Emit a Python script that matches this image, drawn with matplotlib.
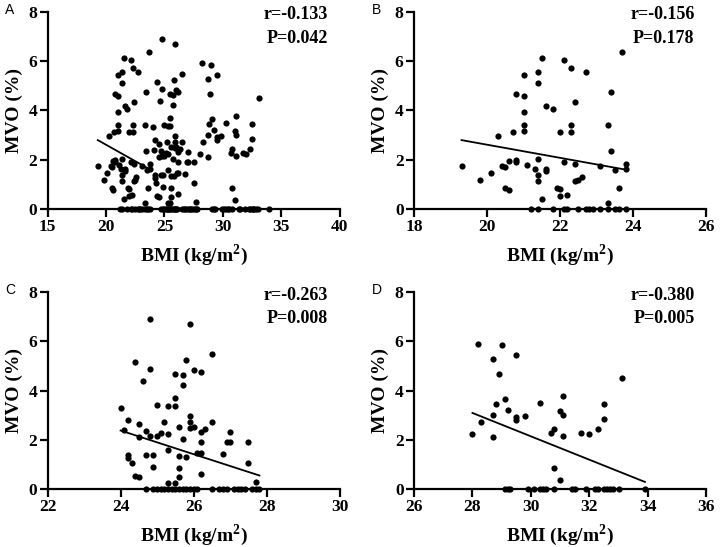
import numpy as np
import matplotlib
matplotlib.use('Agg')
import matplotlib.pyplot as plt

plt.rcParams['mathtext.fontset'] = 'custom'
plt.rcParams['mathtext.rm'] = 'Liberation Serif'
plt.rcParams['mathtext.bf'] = 'Liberation Serif:bold'

# Datos (BMI, MVO)
b_bmi = [19.3, 19.8, 20.1, 20.3, 20.4, 20.5, 20.5, 20.6, 20.6, 20.7, 20.8, 20.8, 20.8,
         21.0, 21.0, 21.0, 21.0, 21.0, 21.1, 21.3, 21.4, 21.4, 21.4, 21.4, 21.4, 21.5,
         21.5, 21.6, 21.6, 21.6, 21.8, 21.9, 22.0, 22.0, 22.0, 22.1, 22.1, 22.2, 22.3,
         22.3, 22.3, 22.4, 22.4, 22.4, 22.5, 22.6, 22.7, 23.1, 23.3, 23.3, 23.4, 23.4,
         23.5, 23.6, 23.7, 23.8, 23.8,
         21.2, 21.4, 21.8, 22.1, 22.2, 22.5, 22.7, 22.8, 22.9, 23.1, 23.3, 23.5, 23.6, 23.8]
b_mvo = [1.73, 1.19, 1.47, 2.96, 1.76, 1.69, 0.84, 0.77, 1.95, 3.13, 4.67, 1.99, 1.89,
         5.43, 4.60, 3.94, 3.40, 3.15, 1.77, 1.61, 5.58, 5.12, 2.02, 1.39, 1.12, 6.14,
         0.41, 1.62, 1.56, 4.17, 4.07, 0.85, 0.80, 0.53, 3.13, 6.06, 1.89, 0.55, 5.74,
         3.40, 3.11, 4.33, 1.81, 1.12, 1.19, 1.29, 5.56, 1.73, 3.41, 0.24, 2.37, 4.75,
         1.57, 0.85, 6.37, 1.84, 1.61,
         0, 0, 0, 0, 0, 0, 0, 0, 0, 0, 0, 0, 0, 0]

c_bmi = [24.0, 24.1, 24.2, 24.2, 24.2, 24.3, 24.4, 24.4, 24.5, 24.5, 24.5, 24.6, 24.7,
         24.7, 24.8, 24.8, 24.8, 24.9, 24.9, 25.0, 25.0, 25.1, 25.2, 25.3, 25.3, 25.3,
         25.3, 25.5, 25.5, 25.5, 25.5, 25.6, 25.6, 25.6, 25.6, 25.7, 25.7, 25.7, 25.8,
         25.8, 25.9, 25.9, 25.9, 25.9, 26.0, 26.0, 26.1, 26.2, 26.2, 26.2, 26.2, 26.2,
         26.3, 26.5, 26.5, 26.8, 26.9, 27.0, 27.0, 27.5, 27.5, 27.7,
         24.7, 24.9, 25.0, 25.1, 25.2, 25.3, 25.4, 25.5, 25.6, 25.7, 25.8, 25.9, 26.0,
         26.1, 26.5, 26.7, 26.8, 26.9, 27.1, 27.2, 27.3, 27.4, 27.6, 27.7, 27.8]
c_mvo = [3.31, 2.39, 2.82, 1.38, 1.27, 1.07, 5.16, 0.51, 0.47, 2.64, 2.12, 4.39, 2.35,
         1.38, 6.92, 4.86, 2.16, 1.38, 0.89, 3.42, 2.16, 2.26, 2.72, 3.36, 2.23, 1.58,
         0.24, 4.69, 3.68, 3.39, 0.23, 2.51, 1.35, 0.85, 0.47, 4.64, 4.24, 2.03, 5.23,
         1.32, 6.69, 2.96, 2.72, 2.49, 4.85, 2.51, 1.47, 4.77, 2.32, 1.89, 1.47, 0.59,
         2.42, 5.47, 2.72, 1.41, 1.89, 2.30, 1.89, 1.89, 1.04, 0.30,
         0, 0, 0, 0, 0, 0, 0, 0, 0, 0, 0, 0, 0, 0, 0, 0, 0, 0, 0, 0, 0, 0, 0, 0, 0]

d_bmi = [28.0, 28.2, 28.3, 28.7, 28.7, 28.7, 28.8, 28.9, 29.0, 29.1, 29.2, 29.5, 29.5,
         29.5, 29.8, 30.3, 30.7, 30.8, 30.8, 31.0, 31.0, 31.1, 31.1, 31.1, 31.7, 32.0,
         32.3, 32.5, 32.5, 33.1,
         29.1, 29.2, 29.3, 29.9, 30.1, 30.3, 30.4, 30.5, 30.8, 31.4, 31.5, 31.9, 32.2,
         32.3, 32.5, 32.6, 32.7, 32.8, 33.0, 33.9]
d_mvo = [2.23, 5.91, 2.74, 5.28, 2.99, 2.12, 3.45, 4.68, 5.84, 3.64, 3.20, 5.46, 2.92,
         2.80, 2.96, 3.50, 2.27, 2.43, 0.84, 0.36, 3.15, 2.99, 3.78, 2.14, 2.28, 2.23,
         2.45, 2.85, 3.47, 4.50,
         0, 0, 0, 0, 0, 0, 0, 0, 0, 0, 0, 0, 0, 0, 0, 0, 0, 0, 0, 0]

# Rectas de ajuste (pendiente, intercepto)
fit_b = (-0.267, 7.95)
fit_c = (-0.481, 13.92)
fit_d = (-0.475, 16.39)

# El panel A junta todos los datos
a_bmi = b_bmi + c_bmi + d_bmi
a_mvo = b_mvo + c_mvo + d_mvo

paneles = [
    ('A', a_bmi, a_mvo, fit_b, (min(b_bmi), max(b_bmi)), (15, 40), [15, 20, 25, 30, 35, 40], '-0.133', '0.042'),
    ('B', b_bmi, b_mvo, fit_b, (min(b_bmi), max(b_bmi)), (18, 26), [18, 20, 22, 24, 26], '-0.156', '0.178'),
    ('C', c_bmi, c_mvo, fit_c, (min(c_bmi), max(c_bmi)), (22, 30), [22, 24, 26, 28, 30], '-0.263', '0.008'),
    ('D', d_bmi, d_mvo, fit_d, (min(d_bmi), max(d_bmi)), (26, 36), [26, 28, 30, 32, 34, 36], '-0.380', '0.005'),
]

posiciones = [(0.066, 0.618), (0.575, 0.618), (0.066, 0.106), (0.575, 0.106)]
ancho, alto = 0.406, 0.360

serif = 'Liberation Serif'
fig = plt.figure(figsize=(7.2, 5.47), dpi=100)

for (letra, x, y, fit, rango, xlim, xticks, r, p), (l, b) in zip(paneles, posiciones):
    ax = fig.add_axes([l, b, ancho, alto])
    ax.scatter(x, y, s=20, color='black', zorder=3, clip_on=False, linewidths=0)
    xs = np.array(rango)
    ax.plot(xs, fit[0] * xs + fit[1], color='black', lw=1.3, zorder=4)
    ax.set_xlim(*xlim)
    ax.set_ylim(0, 8)
    ax.set_xticks(xticks)
    ax.set_yticks([0, 2, 4, 6, 8])
    for s in ['top', 'right']:
        ax.spines[s].set_visible(False)
    for s in ['left', 'bottom']:
        ax.spines[s].set_linewidth(1.6)
    ax.tick_params(direction='out', width=1.6, length=5.5, pad=2)
    for t in ax.get_xticklabels() + ax.get_yticklabels():
        t.set_fontfamily(serif)
        t.set_fontweight('bold')
        t.set_fontsize(12.5)
    ax.set_xlabel('BMI (kg/m$^{\\mathbf{2}}$)', fontfamily=serif, fontweight='bold', fontsize=14, labelpad=5)
    ax.set_ylabel('MVO (%)', fontfamily=serif, fontweight='bold', fontsize=14, labelpad=4)
    ax.text(0.96, 0.985, 'r=' + r, transform=ax.transAxes, ha='right', va='center',
            fontfamily=serif, fontweight='bold', fontsize=13)
    ax.text(0.96, 0.868, 'P=' + p, transform=ax.transAxes, ha='right', va='center',
            fontfamily=serif, fontweight='bold', fontsize=13)
    fig.text(l - 0.052, b + alto + 0.004, letra, fontfamily='Liberation Sans', fontsize=10,
             ha='center', va='center')

plt.savefig('out.png', dpi=100)
